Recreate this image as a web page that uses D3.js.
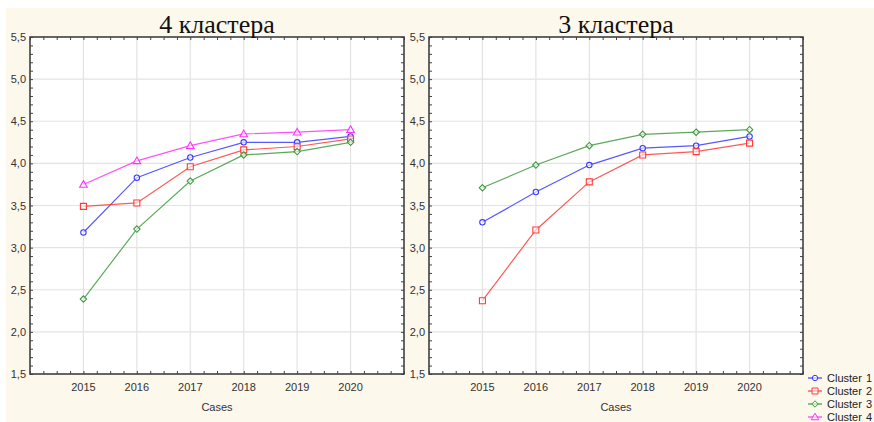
<!DOCTYPE html>
<html>
<head>
<meta charset="utf-8">
<script src="https://cdn.jsdelivr.net/npm/d3@7"></script>
<style>
  html, body { margin: 0; padding: 0; background: #ffffff; }
  svg { display: block; }
</style>
</head>
<body>
<svg id="chart" width="874" height="422"></svg>
<script>
// Years on the horizontal axis
const years = [2015, 2016, 2017, 2018, 2019, 2020];
const yTickLabels = ["1,5", "2,0", "2,5", "3,0", "3,5", "4,0", "4,5", "5,0", "5,5"];
const yTickValues = [1.5, 2.0, 2.5, 3.0, 3.5, 4.0, 4.5, 5.0, 5.5];

// Four-cluster solution
const fourCluster1 = [3.18, 3.83, 4.07, 4.25, 4.25, 4.32];
const fourCluster2 = [3.49, 3.53, 3.96, 4.16, 4.20, 4.29];
const fourCluster3 = [2.39, 3.22, 3.79, 4.10, 4.14, 4.25];
const fourCluster4 = [3.75, 4.03, 4.21, 4.35, 4.37, 4.40];

// Three-cluster solution
const threeCluster1 = [3.30, 3.66, 3.98, 4.18, 4.21, 4.32];
const threeCluster2 = [2.37, 3.21, 3.78, 4.10, 4.14, 4.24];
const threeCluster3 = [3.71, 3.98, 4.21, 4.345, 4.37, 4.40];

const seriesNames = ["Cluster", "Cluster", "Cluster", "Cluster"];
const seriesNumbers = ["1", "2", "3", "4"];
const seriesColors = ["#3b3bff", "#ff3b3b", "#3f9a3f", "#ff33ff"];
const seriesMarkers = ["circle", "square", "diamond", "triangle"];

const svg = d3.select("#chart");

// page backdrop
svg.append("rect").attr("x", 6).attr("y", 8).attr("width", 868).attr("height", 414)
  .attr("fill", "#fdf8ec");

function markerPath(kind) {
  const p = d3.path();
  if (kind === "circle") { p.moveTo(2.7, 0); p.arc(0, 0, 2.7, 0, Math.PI * 2); }
  else if (kind === "square") { p.rect(-3, -3, 6, 6); }
  else if (kind === "diamond") { p.moveTo(0, -3.2); p.lineTo(3.2, 0); p.lineTo(0, 3.2); p.lineTo(-3.2, 0); p.closePath(); }
  else { p.moveTo(0, -3.8); p.lineTo(3.8, 2.8); p.lineTo(-3.8, 2.8); p.closePath(); }
  return p.toString();
}

function drawPanel(left, right, title, series) {
  const top = 37, bottom = 374;
  const x = d3.scaleLinear().domain([2014, 2021]).range([left, right]);
  const y = d3.scaleLinear().domain([1.5, 5.5]).range([bottom, top]);
  const g = svg.append("g");

  g.append("rect").attr("x", left).attr("y", top)
    .attr("width", right - left).attr("height", bottom - top).attr("fill", "#ffffff");

  // grid
  g.append("g").selectAll("line").data(years).join("line")
    .attr("x1", d => x(d)).attr("x2", d => x(d)).attr("y1", top).attr("y2", bottom)
    .attr("stroke", "#e3e3e3").attr("stroke-width", 1.2);
  g.append("g").selectAll("line").data(yTickValues.slice(1, -1)).join("line")
    .attr("x1", left).attr("x2", right).attr("y1", d => y(d)).attr("y2", d => y(d))
    .attr("stroke", "#e3e3e3").attr("stroke-width", 1.2);

  // axes with inward minor ticks
  const xMinor = d3.range(2014, 2021.001, 0.25);
  const yMinor = d3.range(1.5, 5.501, 0.1);
  const axStyle = sel => {
    sel.select(".domain").remove();
    sel.selectAll(".tick line").attr("stroke", "#444").attr("stroke-width", 1);
    sel.selectAll("text").remove();
  };
  g.append("g").attr("transform", `translate(0,${bottom})`)
    .call(d3.axisTop(x).tickValues(xMinor).tickSize(3)).call(axStyle);
  g.append("g").attr("transform", `translate(0,${top})`)
    .call(d3.axisBottom(x).tickValues(xMinor).tickSize(3)).call(axStyle);
  g.append("g").attr("transform", `translate(${left},0)`)
    .call(d3.axisRight(y).tickValues(yMinor).tickSize(3)).call(axStyle);
  g.append("g").attr("transform", `translate(${right},0)`)
    .call(d3.axisLeft(y).tickValues(yMinor).tickSize(3)).call(axStyle);

  // frame
  g.append("rect").attr("x", left).attr("y", top)
    .attr("width", right - left).attr("height", bottom - top)
    .attr("fill", "none").attr("stroke", "#404040").attr("stroke-width", 1.6);

  // tick labels
  const labelFont = "'Liberation Sans', Arial, sans-serif";
  g.append("g").selectAll("text").data(yTickValues).join("text")
    .attr("x", left - 4).attr("y", d => y(d) + 4)
    .attr("text-anchor", "end").attr("font-family", labelFont).attr("font-size", 11)
    .attr("fill", "#333").text((d, i) => yTickLabels[i]);
  g.append("g").selectAll("text").data(years).join("text")
    .attr("x", d => x(d)).attr("y", bottom + 17)
    .attr("text-anchor", "middle").attr("font-family", labelFont).attr("font-size", 11)
    .attr("fill", "#333").text(d => d);
  g.append("text").attr("x", (left + right) / 2).attr("y", bottom + 37)
    .attr("text-anchor", "middle").attr("font-family", labelFont).attr("font-size", 11)
    .attr("fill", "#333").text("Cases");

  // title
  g.append("text").attr("x", (left + right) / 2).attr("y", 33)
    .attr("text-anchor", "middle").attr("font-family", "'Liberation Serif', 'Times New Roman', serif")
    .attr("font-size", 26).attr("fill", "#111").text(title);

  // series
  const line = d3.line().x((d, i) => x(years[i])).y(d => y(d));
  series.forEach((vals, k) => {
    g.append("path").datum(vals).attr("d", line)
      .attr("fill", "none").attr("stroke", seriesColors[k]).attr("stroke-width", 1.2)
      .attr("stroke-opacity", 0.85);
    g.append("g").selectAll("path").data(vals).join("path")
      .attr("transform", (d, i) => `translate(${x(years[i])},${y(d)})`)
      .attr("d", markerPath(seriesMarkers[k]))
      .attr("fill", "#ffffff").attr("fill-opacity", 0.6)
      .attr("stroke", seriesColors[k]).attr("stroke-width", 1.1);
  });
}

drawPanel(30, 404, "4 кластера", [fourCluster1, fourCluster2, fourCluster3, fourCluster4]);
drawPanel(429, 803, "3 кластера", [threeCluster1, threeCluster2, threeCluster3]);

// legend
const legend = svg.append("g");
seriesNames.forEach((name, k) => {
  const cy = 378 + k * 13;
  legend.append("line").attr("x1", 808).attr("x2", 822).attr("y1", cy).attr("y2", cy)
    .attr("stroke", seriesColors[k]).attr("stroke-width", 1.2);
  legend.append("path").attr("transform", `translate(815,${cy})`)
    .attr("d", markerPath(seriesMarkers[k]))
    .attr("fill", "#ffffff").attr("fill-opacity", 0.6)
    .attr("stroke", seriesColors[k]).attr("stroke-width", 1);
  const t = legend.append("text").attr("y", cy + 4)
    .attr("font-family", "'Liberation Sans', Arial, sans-serif").attr("font-size", 11)
    .attr("fill", "#222");
  t.append("tspan").attr("x", 827).text(name);
  t.append("tspan").attr("x", 866).text(seriesNumbers[k]);
});
</script>
</body>
</html>
